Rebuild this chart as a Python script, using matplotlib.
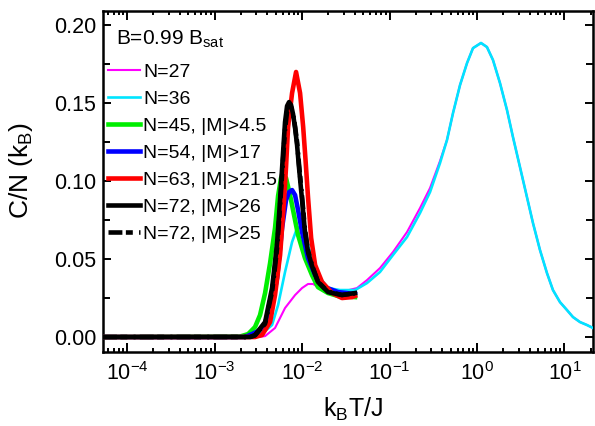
import matplotlib
matplotlib.use("Agg")
import matplotlib.pyplot as plt
from matplotlib.ticker import FixedLocator, NullFormatter, FixedFormatter

plt.rcParams['font.family'] = ['Liberation Sans', 'DejaVu Sans']
plt.rcParams['mathtext.default'] = 'regular'
plt.rcParams['lines.scale_dashes'] = False

# ---------------- data ----------------
T_27 = [5.3e-5, 3.14e-3, 3.78e-3, 4.91e-3, 6.39e-3, 8.32e-3, 1.00e-2, 1.17e-2, 1.34e-2,
        1.52e-2, 1.83e-2, 2.38e-2, 3.10e-2, 0.0425, 0.0553, 0.0778, 0.1096, 0.1585,
        0.2232, 0.2904, 0.3776, 0.4540, 0.5321, 0.6397, 0.7691, 0.9000, 1.111, 1.300,
        1.523, 1.832, 2.203, 2.578, 3.099, 3.726, 4.365, 5.248, 6.310, 7.389, 8.884,
        10.68, 12.51, 15.04, 18.08, 21.17]
C_27 = [0.0, 0.0, 0.0006, 0.0058, 0.0186, 0.0269, 0.0314, 0.0340, 0.0340,
        0.0320, 0.0301, 0.0295, 0.0295, 0.0314, 0.0365, 0.0442, 0.0545, 0.0673,
        0.0827, 0.0955, 0.1128, 0.1263, 0.1436, 0.1615, 0.1756, 0.1852, 0.1885, 0.1859,
        0.1776, 0.1628, 0.1455, 0.1282, 0.1090, 0.0897, 0.0731, 0.0558, 0.0410, 0.0301,
        0.0224, 0.0173, 0.0128, 0.0096, 0.0077, 0.0058]

T_36 = [5.3e-5, 2.55e-3, 3.14e-3, 3.78e-3, 4.54e-3, 5.32e-3, 6.39e-3, 7.69e-3, 8.77e-3,
        9.49e-3, 1.08e-2, 1.30e-2, 1.52e-2, 1.98e-2, 0.0272, 0.0404, 0.0553, 0.0778,
        0.1096, 0.1585, 0.2232, 0.2904, 0.3776, 0.4540, 0.5321, 0.6397, 0.7691, 0.9000,
        1.111, 1.300, 1.523, 1.832, 2.203, 2.578, 3.099, 3.726, 4.365, 5.248, 6.310,
        7.389, 8.884, 10.68, 12.51, 15.04, 18.08, 21.17]
C_36 = [0.0, 0.0, 0.0013, 0.0038, 0.0077, 0.0205, 0.0417, 0.0609, 0.0699,
        0.0705, 0.0647, 0.0506, 0.0397, 0.0314, 0.0301, 0.0301, 0.0346, 0.0417,
        0.0526, 0.0641, 0.0795, 0.0929, 0.1115, 0.1263, 0.1436, 0.1615, 0.1756, 0.1852,
        0.1885, 0.1859, 0.1776, 0.1628, 0.1455, 0.1282, 0.1090, 0.0897, 0.0731, 0.0558,
        0.0410, 0.0301, 0.0224, 0.0173, 0.0128, 0.0096, 0.0077, 0.0058]

T_45 = [5.3e-5, 1.95e-3, 2.42e-3, 2.90e-3, 3.31e-3, 3.78e-3, 4.31e-3, 4.91e-3, 5.32e-3,
        5.75e-3, 6.07e-3, 6.56e-3, 7.29e-3, 8.10e-3, 9.00e-3, 1.08e-2, 1.30e-2, 1.52e-2,
        1.98e-2, 2.58e-2, 4.03e-2]
C_45 = [0.0, 0.0003, 0.0019, 0.0064, 0.0141, 0.0282, 0.0474, 0.0699, 0.0904,
        0.1019, 0.1045, 0.1019, 0.0910, 0.0782, 0.0654, 0.0506, 0.0397, 0.0320,
        0.0282, 0.0263, 0.0256]

T_54 = [5.3e-5, 2.23e-3, 2.68e-3, 3.14e-3, 3.78e-3, 4.54e-3, 5.18e-3, 5.91e-3, 6.56e-3,
        7.10e-3, 7.69e-3, 8.32e-3, 9.00e-3, 1.00e-2, 1.17e-2, 1.41e-2, 1.83e-2, 2.58e-2,
        4.03e-2]
C_54 = [0.0, 0.0, 0.0019, 0.0038, 0.0077, 0.0205, 0.0378, 0.0699, 0.0878,
        0.0929, 0.0942, 0.0910, 0.0814, 0.0673, 0.0506, 0.0397, 0.0320, 0.0288,
        0.0276]

T_63 = [5.3e-5, 2.90e-3, 3.49e-3, 4.31e-3, 4.91e-3, 5.61e-3, 6.23e-3, 6.56e-3, 6.92e-3,
        7.69e-3, 8.54e-3, 9.49e-3, 1.03e-2, 1.096e-2, 1.17e-2, 1.27e-2, 1.41e-2, 1.69e-2,
        2.20e-2, 2.86e-2, 3.73e-2, 4.03e-2]
C_63 = [0.0, 0.0, 0.0013, 0.0096, 0.0269, 0.0526, 0.0878, 0.1090, 0.1346,
        0.1564, 0.1699, 0.1564, 0.1346, 0.1135, 0.0897, 0.0635, 0.0462, 0.0353,
        0.0282, 0.0250, 0.0256, 0.0263]

T_72 = [5.3e-5, 2.55e-3, 2.90e-3, 3.78e-3, 4.54e-3, 4.91e-3, 5.18e-3, 5.46e-3, 5.75e-3,
        6.07e-3, 6.39e-3, 6.74e-3, 7.10e-3, 7.49e-3, 7.89e-3, 8.32e-3, 8.77e-3, 9.24e-3,
        1.00e-2, 1.08e-2, 1.17e-2, 1.30e-2, 1.52e-2, 1.98e-2, 2.86e-2, 4.03e-2]
C_72a = [0.0, 0.0, 0.0013, 0.0096, 0.0314, 0.0481, 0.0603, 0.0782, 0.0974,
         0.1186, 0.1378, 0.1481, 0.1506, 0.1487, 0.1429, 0.1340, 0.1231, 0.1083,
         0.0878, 0.0673, 0.0545, 0.0455, 0.0353, 0.0288, 0.0269, 0.0282]
C_72b = [0.0, 0.0, 0.0010, 0.0085, 0.0290, 0.0450, 0.0570, 0.0745, 0.0935,
         0.1140, 0.1330, 0.1445, 0.1480, 0.1475, 0.1430, 0.1350, 0.1250, 0.1105,
         0.0900, 0.0690, 0.0555, 0.0460, 0.0355, 0.0290, 0.0270, 0.0280]

labels = ['N=27', 'N=36', 'N=45, |M|>4.5', 'N=54, |M|>17', 'N=63, |M|>21.5',
          'N=72, |M|>26', 'N=72, |M|>25']
x_ticks = [1e-4, 1e-3, 1e-2, 1e-1, 1e0, 1e1]
x_tick_labels = [r'$10^{-4}$', r'$10^{-3}$', r'$10^{-2}$', r'$10^{-1}$', r'$10^{0}$', r'$10^{1}$']
y_ticks = [0.00, 0.05, 0.10, 0.15, 0.20]
y_tick_labels = ['0.00', '0.05', '0.10', '0.15', '0.20']

# ---------------- figure ----------------
fig = plt.figure(figsize=(5.95, 4.26), dpi=100)
ax = fig.add_axes([103/595, 1 - 352/426, 490/595, 341/426])

thin = 1.5
thick = 3.3
ax.plot(T_27, C_27, color='#ff00ff', lw=thin, label=labels[0], zorder=2)
ax.plot(T_36, C_36, color='#00e5ff', lw=thin + 0.4, label=labels[1], zorder=3)
ax.plot(T_45, C_45, color='#00ee00', lw=thick, label=labels[2], zorder=4)
ax.plot(T_54, C_54, color='#0000ff', lw=thick, label=labels[3], zorder=5)
ax.plot(T_63, C_63, color='#ff0000', lw=thick, label=labels[4], zorder=6)
ax.plot(T_72, C_72a, color='black', lw=thick, label=labels[5], zorder=7)
ax.plot(T_72, C_72b, color='black', lw=thick, label=labels[6], zorder=8,
        dashes=(10, 2.5, 5, 4.5, 1.5, 3))

ax.set_xscale('log')
ax.set_xlim(5.3e-5, 21.2)
ax.set_ylim(-0.0096, 0.209)

ax.xaxis.set_major_locator(FixedLocator(x_ticks))
ax.xaxis.set_major_formatter(FixedFormatter(x_tick_labels))
minors = [m * 10.0**e for e in range(-5, 2) for m in range(2, 10)]
ax.xaxis.set_minor_locator(FixedLocator(minors))
ax.xaxis.set_minor_formatter(NullFormatter())
ax.yaxis.set_major_locator(FixedLocator(y_ticks))
ax.yaxis.set_major_formatter(FixedFormatter(y_tick_labels))
ax.yaxis.set_minor_locator(FixedLocator([0.025, 0.075, 0.125, 0.175]))

ax.tick_params(which='both', direction='in', top=True, right=True, width=1.4,
               labelsize=15.5, colors='black')
ax.tick_params(axis='x', which='major', length=6.5, pad=7.5)
ax.tick_params(axis='x', which='minor', length=3.2)
ax.tick_params(axis='y', which='major', length=5.5, pad=5)
ax.tick_params(axis='y', which='minor', length=5.0)
for s in ax.spines.values():
    s.set_linewidth(1.8)

ax.set_xlabel(r'k$_B$T/J', fontsize=18)
ax.xaxis.set_label_coords(0.51, -0.128)
ax.set_ylabel(r'C/N (k$_B$)', fontsize=19)
ax.yaxis.set_label_coords(-0.139, 0.534)

ax.text(0.027, 0.900, r'B=0.99 B$_{sat}$', transform=ax.transAxes, fontsize=15,
        ha='left', va='baseline')

leg = ax.legend(loc='upper left', bbox_to_anchor=(0.010, 0.846), frameon=False,
                fontsize=14, handlelength=1.65, handletextpad=0.15,
                labelspacing=0.48, borderaxespad=0, borderpad=0)

fig.savefig('out.png', dpi=100)
